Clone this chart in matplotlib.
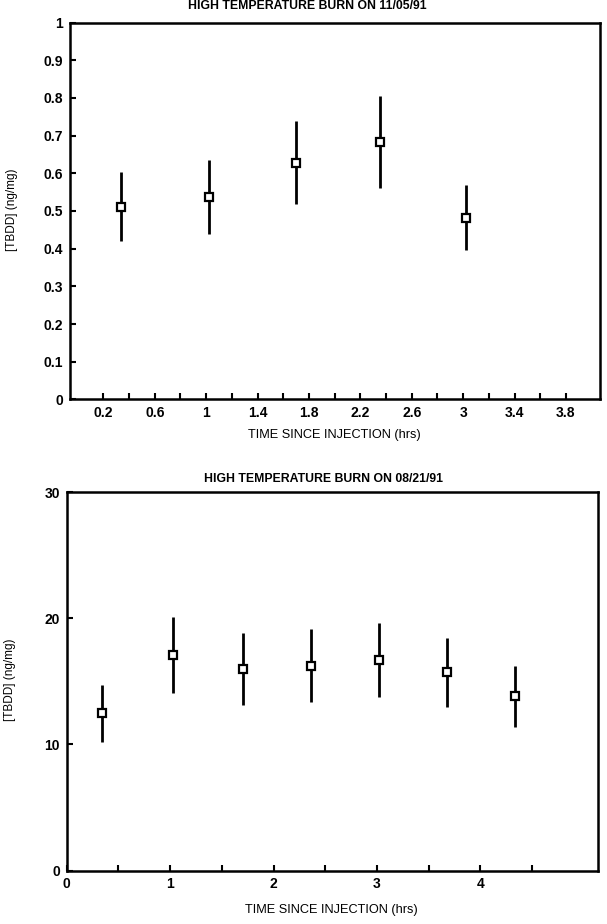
import matplotlib
matplotlib.use("Agg")
import matplotlib.pyplot as plt
from matplotlib.ticker import FixedLocator

plt.rcParams['font.family'] = ['Liberation Sans', 'DejaVu Sans']

# ---- data: burn on 11/05/91 ----
time_a = [0.34, 1.02, 1.70, 2.35, 3.02]
tbdd_a = [0.511, 0.538, 0.627, 0.682, 0.481]
upper_a = [0.604, 0.634, 0.740, 0.805, 0.568]
lower_a = [0.421, 0.440, 0.518, 0.561, 0.397]

# ---- data: burn on 08/21/91 ----
time_b = [0.34, 1.03, 1.70, 2.36, 3.02, 3.68, 4.33]
tbdd_b = [12.5, 17.07, 15.95, 16.24, 16.66, 15.72, 13.84]
upper_b = [14.72, 20.13, 18.87, 19.16, 19.61, 18.48, 16.26]
lower_b = [10.21, 14.05, 13.13, 13.39, 13.76, 13.00, 11.39]

title_a = "HIGH TEMPERATURE BURN ON 11/05/91"
title_b = "HIGH TEMPERATURE BURN ON 08/21/91"
xlabel = "TIME SINCE INJECTION (hrs)"
ylabel = "[TBDD] (ng/mg)"

xticks_a = [0.2, 0.6, 1.0, 1.4, 1.8, 2.2, 2.6, 3.0, 3.4, 3.8]
xticklabels_a = ['0.2', '0.6', '1', '1.4', '1.8', '2.2', '2.6', '3', '3.4', '3.8']
xminor_a = [0.4, 0.8, 1.2, 1.6, 2.0, 2.4, 2.8, 3.2, 3.6]
yticks_a = [0, 0.1, 0.2, 0.3, 0.4, 0.5, 0.6, 0.7, 0.8, 0.9, 1.0]
yticklabels_a = ['0', '0.1', '0.2', '0.3', '0.4', '0.5', '0.6', '0.7', '0.8', '0.9', '1']

xticks_b = [0, 1, 2, 3, 4]
xminor_b = [0.5, 1.5, 2.5, 3.5, 4.5]
yticks_b = [0, 10, 20, 30]

W, H = 607, 924
fig = plt.figure(figsize=(W / 100, H / 100), dpi=100)

def rect(l, t, r, b):
    return [l / W, 1 - b / H, (r - l) / W, (b - t) / H]

def fx(px):
    return px / W

def fy(py):
    return 1 - py / H

ax1 = fig.add_axes(rect(70, 22.5, 600, 399.5))
ax2 = fig.add_axes(rect(66.7, 492.3, 598.3, 870.5))

def draw(ax, t, v, lo, hi):
    err = [[vi - l for vi, l in zip(v, lo)], [h - vi for vi, h in zip(v, hi)]]
    ax.errorbar(t, v, yerr=err, fmt='s', color='black', ecolor='black',
                elinewidth=2.0, capsize=0, markersize=5.5, markeredgewidth=1.6,
                markerfacecolor='white', markeredgecolor='black', zorder=3)
    for s in ax.spines.values():
        s.set_linewidth(1.8)
    ax.tick_params(direction='in', length=4, width=1.5, which='both', pad=5)

# top chart
draw(ax1, time_a, tbdd_a, lower_a, upper_a)
ax1.set_xlim(-0.06, 4.065)
ax1.set_ylim(0, 1)
ax1.xaxis.set_major_locator(FixedLocator(xticks_a))
ax1.xaxis.set_minor_locator(FixedLocator(xminor_a))
ax1.set_xticklabels(xticklabels_a, fontweight='bold', fontsize=10)
ax1.set_yticks(yticks_a)
ax1.set_yticklabels(yticklabels_a, fontweight='bold', fontsize=10)

# bottom chart
draw(ax2, time_b, tbdd_b, lower_b, upper_b)
ax2.set_xlim(0, 5.14)
ax2.set_ylim(0, 30)
ax2.xaxis.set_major_locator(FixedLocator(xticks_b))
ax2.xaxis.set_minor_locator(FixedLocator(xminor_b))
ax2.set_xticklabels([str(v) for v in xticks_b], fontweight='bold', fontsize=10)
ax2.set_yticks(yticks_b)
ax2.set_yticklabels([str(v) for v in yticks_b], fontweight='bold', fontsize=10)

# titles and labels placed like the scanned page
fig.text(fx(307), fy(6), title_a, ha='center', va='center', fontsize=8.8, fontweight='bold')
fig.text(fx(324), fy(479), title_b, ha='center', va='center', fontsize=8.8, fontweight='bold')
fig.text(fx(334), fy(435), xlabel, ha='center', va='center', fontsize=9.2)
fig.text(fx(331), fy(910), xlabel, ha='center', va='center', fontsize=9.2)
fig.text(fx(12), fy(210), ylabel, ha='center', va='center', rotation=90, fontsize=8.5)
fig.text(fx(10), fy(680), ylabel, ha='center', va='center', rotation=90, fontsize=8.5)

fig.savefig("out.png", dpi=100)
